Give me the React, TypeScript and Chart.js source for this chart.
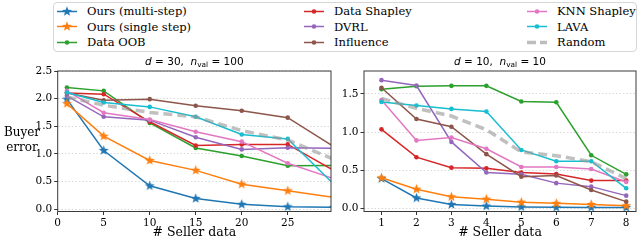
import React, { useEffect, useRef } from "react";
import { Chart, registerables } from "chart.js";

Chart.register(...registerables);

// ---------- data ----------
const seriesNames = [
  "Ours (multi-step)",
  "Ours (single step)",
  "Data OOB",
  "Data Shapley",
  "DVRL",
  "Influence",
  "KNN Shapley",
  "LAVA",
  "Random",
];
const seriesColors = [
  "#1f77b4",
  "#ff7f0e",
  "#2ca02c",
  "#d62728",
  "#9467bd",
  "#8c564b",
  "#e377c2",
  "#17becf",
  "rgba(150,150,150,0.6)",
];

// left panel: d = 30, n_val = 100
const leftX = [1, 5, 10, 15, 20, 25, 30];
const leftOursMulti = [1.99, 1.06, 0.42, 0.19, 0.085, 0.04, 0.03];
const leftOursSingle = [1.91, 1.32, 0.88, 0.7, 0.45, 0.33, 0.21];
const leftDataOOB = [2.2, 2.14, 1.56, 1.105, 0.96, 0.785, 0.79];
const leftDataShapley = [2.1, 2.08, 1.58, 1.15, 1.17, 1.17, 0.7];
const leftDVRL = [2.05, 1.67, 1.61, 1.3, 1.08, 1.11, 1.1];
const leftInfluence = [2.1, 1.97, 1.99, 1.87, 1.78, 1.655, 1.13];
const leftKNN = [2.14, 1.745, 1.62, 1.4, 1.22, 0.83, 0.55];
const leftLAVA = [2.11, 1.93, 1.85, 1.67, 1.35, 1.27, 0.45];
const leftRandom = [2.03, 1.88, 1.75, 1.67, 1.42, 1.25, 0.9];

// right panel: d = 10, n_val = 10
const rightX = [1, 2, 3, 4, 5, 6, 7, 8];
const rightOursMulti = [0.39, 0.135, 0.05, 0.03, 0.018, 0.013, 0.012, 0.01];
const rightOursSingle = [0.4, 0.25, 0.15, 0.12, 0.08, 0.065, 0.05, 0.035];
const rightDataOOB = [1.56, 1.6, 1.605, 1.605, 1.4, 1.39, 0.695, 0.445];
const rightDataShapley = [1.035, 0.67, 0.533, 0.525, 0.468, 0.45, 0.363, 0.363];
const rightDVRL = [1.68, 1.61, 0.87, 0.47, 0.446, 0.33, 0.284, 0.166];
const rightInfluence = [1.58, 1.17, 1.07, 0.71, 0.415, 0.43, 0.24, 0.087];
const rightKNN = [1.42, 0.89, 0.927, 0.78, 0.542, 0.542, 0.516, 0.345];
const rightLAVA = [1.395, 1.347, 1.303, 1.268, 0.765, 0.617, 0.617, 0.262];
const rightRandom = [1.44, 1.31, 1.21, 1.03, 0.74, 0.69, 0.61, 0.39];

const leftYTicks = [0, 0.5, 1, 1.5, 2, 2.5];
const leftXTicks = [0, 5, 10, 15, 20, 25];
const rightYTicks = [0, 0.5, 1, 1.5];
const rightXTicks = [1, 2, 3, 4, 5, 6, 7, 8];

const xAxisTitle = "# Seller data";
const yAxisTitleLines = ["Buyer", "error"];

const SERIF = "'DejaVu Serif', serif";
const SANS = "'DejaVu Sans', sans-serif";

// ---------- helpers ----------
function makeStar(color: string, r: number): HTMLCanvasElement {
  const size = Math.ceil(r * 2 + 2);
  const c = document.createElement("canvas");
  c.width = size;
  c.height = size;
  const ctx = c.getContext("2d")!;
  ctx.translate(size / 2, size / 2);
  ctx.beginPath();
  for (let i = 0; i < 10; i++) {
    const rad = i % 2 === 0 ? r : r * 0.42;
    const a = -Math.PI / 2 + (i * Math.PI) / 5;
    const px = rad * Math.cos(a);
    const py = rad * Math.sin(a);
    if (i === 0) ctx.moveTo(px, py);
    else ctx.lineTo(px, py);
  }
  ctx.closePath();
  ctx.fillStyle = color;
  ctx.fill();
  return c;
}

function buildDatasets(xs: number[], series: number[][]) {
  const n = series.length;
  return series.map((ys, i) => {
    const color = seriesColors[i];
    const isStar = i < 2;
    const isRandom = i === n - 1;
    return {
      label: seriesNames[i],
      data: xs.map((x, k) => ({ x, y: ys[k] })),
      borderColor: color,
      backgroundColor: color,
      borderWidth: isRandom ? 3.5 : 1.5,
      borderDash: isRandom ? [9, 5] : [],
      pointStyle: isStar ? makeStar(color, 5.2) : "circle",
      pointRadius: isRandom ? 0 : isStar ? 4 : 2.3,
      pointBorderWidth: 0,
      pointBackgroundColor: color,
      tension: 0,
      order: n - 1 - i,
      clip: 0,
    };
  });
}

type Part = { t: string; it?: boolean; sub?: boolean };

function drawMathTitle(ctx: CanvasRenderingContext2D, cx: number, cy: number, parts: Part[], size: number) {
  const fontFor = (p: Part) =>
    `${p.it ? "italic " : ""}${p.sub ? size * 0.7 : size}px ${SANS}`;
  let total = 0;
  const widths = parts.map((p) => {
    ctx.font = fontFor(p);
    const w = ctx.measureText(p.t).width;
    total += w;
    return w;
  });
  let x = cx - total / 2;
  ctx.save();
  ctx.fillStyle = "#000";
  ctx.textBaseline = "middle";
  ctx.textAlign = "left";
  parts.forEach((p, i) => {
    ctx.font = fontFor(p);
    ctx.fillText(p.t, x, p.sub ? cy + size * 0.28 : cy);
    x += widths[i];
  });
  ctx.restore();
}

function makePlugin(titleParts: Part[], drawYLabel: boolean) {
  return {
    id: "decor" + (drawYLabel ? "L" : "R"),
    afterDraw(chart: any) {
      const { ctx, chartArea } = chart;
      const { left, right, top, bottom } = chartArea;
      ctx.save();
      ctx.strokeStyle = "#3a3a3a";
      ctx.lineWidth = 1;
      ctx.strokeRect(left, top, right - left, bottom - top);
      ctx.restore();
      drawMathTitle(ctx, (left + right) / 2, top - 8.5, titleParts, 10.5);
      if (drawYLabel) {
        ctx.save();
        ctx.fillStyle = "#000";
        ctx.font = `12px ${SERIF}`;
        ctx.textAlign = "center";
        ctx.textBaseline = "middle";
        const midY = (top + bottom) / 2 - 1;
        ctx.fillText(yAxisTitleLines[0], 22, midY - 7.5);
        ctx.fillText(yAxisTitleLines[1], 22, midY + 7.5);
        ctx.restore();
      }
    },
  };
}

function makeConfig(
  xs: number[],
  series: number[][],
  xMin: number,
  xMax: number,
  yMin: number,
  yMax: number,
  xTicks: number[],
  yTicks: number[],
  yAxisWidth: number,
  padRight: number,
  plugin: any
): any {
  return {
    type: "line",
    data: { datasets: buildDatasets(xs, series) },
    options: {
      animation: false,
      responsive: false,
      maintainAspectRatio: false,
      events: [],
      layout: { padding: { left: 0, right: padRight, top: 15, bottom: 0 } },
      plugins: { legend: { display: false }, tooltip: { enabled: false }, title: { display: false } },
      scales: {
        x: {
          type: "linear",
          min: xMin,
          max: xMax,
          afterBuildTicks: (s: any) => {
            s.ticks = xTicks.map((v) => ({ value: v }));
          },
          afterFit: (s: any) => {
            s.height = 28.5;
          },
          grid: {
            drawOnChartArea: false,
            drawTicks: true,
            tickLength: 3.5,
            tickColor: "#333",
            tickWidth: 1,
            color: "#333",
          },
          border: { display: false },
          ticks: {
            color: "#000",
            font: { family: SERIF, size: 10.5 },
            padding: 1.5,
            maxRotation: 0,
            autoSkip: false,
            callback: (v: any) => String(v),
          },
          title: {
            display: true,
            text: xAxisTitle,
            color: "#000",
            font: { family: SERIF, size: 12.5, lineHeight: 1.05 },
            padding: { top: 0, bottom: 1 },
          },
        },
        y: {
          type: "linear",
          min: yMin,
          max: yMax,
          afterBuildTicks: (s: any) => {
            s.ticks = yTicks.map((v) => ({ value: v }));
          },
          afterFit: (s: any) => {
            s.width = yAxisWidth;
          },
          grid: {
            color: "#cfcfcf",
            lineWidth: 0.8,
            drawTicks: true,
            tickLength: 3.5,
            tickColor: "#333",
            tickWidth: 1,
            tickBorderDash: [],
          },
          border: { display: false, dash: [1.5, 2] },
          ticks: {
            color: "#000",
            font: { family: SERIF, size: 10.5 },
            padding: 2,
            autoSkip: false,
            callback: (v: any) => Number(v).toFixed(1),
          },
        },
      },
    },
    plugins: [plugin],
  };
}

// ---------- legend ----------
function LegendHandle({ index }: { index: number }) {
  const color = seriesColors[index];
  const isRandom = index === seriesNames.length - 1;
  const isStar = index < 2;
  const starPts: string[] = [];
  for (let i = 0; i < 10; i++) {
    const rad = i % 2 === 0 ? 5.2 : 5.2 * 0.42;
    const a = -Math.PI / 2 + (i * Math.PI) / 5;
    starPts.push(`${(11 + rad * Math.cos(a)).toFixed(2)},${(6.5 + rad * Math.sin(a)).toFixed(2)}`);
  }
  return (
    <svg width={22} height={13} style={{ display: "block" }}>
      <line
        x1={1}
        y1={6.5}
        x2={21}
        y2={6.5}
        stroke={isRandom ? "#bdbdbd" : color}
        strokeWidth={isRandom ? 3.5 : 1.5}
        strokeDasharray={isRandom ? "9 4" : undefined}
      />
      {isStar ? <polygon points={starPts.join(" ")} fill={color} /> : null}
      {!isStar && !isRandom ? <circle cx={11} cy={6.5} r={2.3} fill={color} /> : null}
    </svg>
  );
}

const legendColX = [56, 303, 526];
const legendRowY = [11, 26.5, 42];

function Legend() {
  return (
    <>
      <div
        style={{
          position: "absolute",
          left: 53,
          top: 2,
          width: 584,
          height: 50,
          boxSizing: "border-box",
          border: "1px solid #d6d6d6",
          borderRadius: 4,
          background: "#fff",
        }}
      />
      {seriesNames.map((name, i) => {
        const col = Math.floor(i / 3);
        const row = i % 3;
        return (
          <div
            key={name}
            style={{
              position: "absolute",
              left: legendColX[col],
              top: legendRowY[row] - 8,
              height: 16,
              display: "flex",
              alignItems: "center",
              whiteSpace: "nowrap",
            }}
          >
            <LegendHandle index={i} />
            <span
              style={{
                marginLeft: 9,
                fontFamily: SERIF,
                fontSize: 11.5,
                color: "#000",
                lineHeight: "16px",
              }}
            >
              {name}
            </span>
          </div>
        );
      })}
    </>
  );
}

export default function App() {
  const leftRef = useRef<HTMLCanvasElement | null>(null);
  const rightRef = useRef<HTMLCanvasElement | null>(null);

  useEffect(() => {
    const leftSeries = [
      leftOursMulti,
      leftOursSingle,
      leftDataOOB,
      leftDataShapley,
      leftDVRL,
      leftInfluence,
      leftKNN,
      leftLAVA,
      leftRandom,
    ];
    const rightSeries = [
      rightOursMulti,
      rightOursSingle,
      rightDataOOB,
      rightDataShapley,
      rightDVRL,
      rightInfluence,
      rightKNN,
      rightLAVA,
      rightRandom,
    ];
    const leftChart = new Chart(
      leftRef.current!,
      makeConfig(
        leftX,
        leftSeries,
        0,
        29.7,
        -0.045,
        2.5,
        leftXTicks,
        leftYTicks,
        57.7,
        5,
        makePlugin(
          [{ t: "d", it: true }, { t: " = 30,  " }, { t: "n", it: true }, { t: "val", sub: true }, { t: " = 100" }],
          true
        )
      )
    );
    const rightChart = new Chart(
      rightRef.current!,
      makeConfig(
        rightX,
        rightSeries,
        0.5,
        8.28,
        -0.042,
        1.8,
        rightXTicks,
        rightYTicks,
        28,
        1,
        makePlugin(
          [{ t: "d", it: true }, { t: " = 10,  " }, { t: "n", it: true }, { t: "val", sub: true }, { t: " = 10" }],
          false
        )
      )
    );
    return () => {
      leftChart.destroy();
      rightChart.destroy();
    };
  }, []);

  return (
    <div
      style={{
        position: "fixed",
        left: 0,
        top: 0,
        width: 640,
        height: 240,
        background: "#fff",
        overflow: "hidden",
      }}
    >
      <Legend />
      <canvas
        ref={leftRef}
        width={336}
        height={184}
        style={{ position: "absolute", left: 0, top: 56, width: 336, height: 184 }}
      />
      <canvas
        ref={rightRef}
        width={304}
        height={184}
        style={{ position: "absolute", left: 336, top: 56, width: 304, height: 184 }}
      />
    </div>
  );
}
